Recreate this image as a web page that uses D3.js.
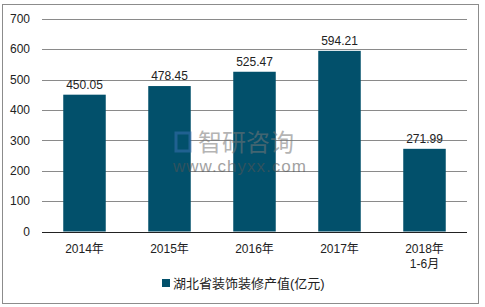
<!DOCTYPE html>
<html lang="zh">
<head>
<meta charset="utf-8">
<title>湖北省装饰装修产值</title>
<script src="https://cdn.jsdelivr.net/npm/d3@7"></script>
<style>
  body { margin: 0; background: #fff; }
  text { font-family: "Liberation Sans", Arial, "Noto Sans CJK SC", sans-serif; }
</style>
</head>
<body>
<script>
var categories = ["2014年", "2015年", "2016年", "2017年", "2018年\n1-6月"];
var values = [450.05, 478.45, 525.47, 594.21, 271.99];
var yTicks = [0, 100, 200, 300, 400, 500, 600, 700];
var seriesName = "湖北省装饰装修产值(亿元)";

var width = 485, height = 307;
var margin = {left: 42, right: 18, top: 18.7, bottom: 75.5};
var barColor = "#02506b";

var svg = d3.select("body").append("svg")
  .attr("width", width)
  .attr("height", height);

// frame
svg.append("rect")
  .attr("x", 2.5).attr("y", 4.5)
  .attr("width", 476).attr("height", 299)
  .attr("fill", "none")
  .attr("stroke", "#8c8c8c");

var x = d3.scaleBand()
  .domain(categories)
  .range([margin.left, width - margin.right])
  .paddingInner(0.5)
  .paddingOuter(0.25);

var y = d3.scaleLinear()
  .domain([0, 700])
  .range([height - margin.bottom, margin.top]);

// grid
svg.append("g")
  .selectAll("line")
  .data(yTicks.slice(1))
  .enter().append("line")
  .attr("x1", margin.left)
  .attr("x2", width - margin.right)
  .attr("y1", function(d) { return Math.round(y(d)) + 0.5; })
  .attr("y2", function(d) { return Math.round(y(d)) + 0.5; })
  .attr("stroke", "#8a8a8a")
  .attr("stroke-width", 1);

// y tick labels
svg.append("g")
  .selectAll("text")
  .data(yTicks)
  .enter().append("text")
  .attr("x", 30)
  .attr("y", function(d) { return y(d); })
  .attr("dy", "0.35em")
  .attr("text-anchor", "end")
  .attr("font-size", 12)
  .attr("fill", "#222")
  .text(function(d) { return d; });

// bars
svg.append("g")
  .selectAll("rect")
  .data(values)
  .enter().append("rect")
  .attr("x", function(d, i) { return x(categories[i]); })
  .attr("width", x.bandwidth())
  .attr("y", function(d) { return y(d); })
  .attr("height", function(d) { return y(0) - y(d); })
  .attr("fill", barColor);

// value labels
svg.append("g")
  .selectAll("text")
  .data(values)
  .enter().append("text")
  .attr("x", function(d, i) { return x(categories[i]) + x.bandwidth() / 2; })
  .attr("y", function(d) { return y(d) - 6; })
  .attr("text-anchor", "middle")
  .attr("font-size", 12)
  .attr("fill", "#222")
  .text(function(d) { return d.toFixed(2); });

// baseline
svg.append("line")
  .attr("x1", margin.left)
  .attr("x2", width - margin.right)
  .attr("y1", Math.round(y(0)) + 0.5)
  .attr("y2", Math.round(y(0)) + 0.5)
  .attr("stroke", "#222");

// x labels
var xl = svg.append("g")
  .selectAll("text")
  .data(categories)
  .enter().append("text")
  .attr("x", function(d) { return x(d) + x.bandwidth() / 2; })
  .attr("y", y(0) + 21)
  .attr("text-anchor", "middle")
  .attr("font-size", 12)
  .attr("fill", "#222");
xl.selectAll("tspan")
  .data(function(d) { return d.split("\n"); })
  .enter().append("tspan")
  .attr("x", function() { return d3.select(this.parentNode).attr("x"); })
  .attr("dy", function(d, i) { return i ? 15 : 0; })
  .text(function(d) { return d; });

// watermark
var wm = svg.append("g").attr("opacity", 0.55);
wm.append("rect").attr("x", 176).attr("y", 133).attr("width", 14).attr("height", 18)
  .attr("fill", "none").attr("stroke", "#3a6fb0").attr("stroke-width", 3);
wm.append("text").attr("x", 198).attr("y", 151)
  .attr("font-size", 24).attr("fill", "#777")
  .attr("font-family", "Noto Sans CJK SC")
  .text("智研咨询");
wm.append("text").attr("x", 173).attr("y", 172)
  .attr("font-size", 17).attr("fill", "#555")
  .attr("letter-spacing", 1)
  .text("www.chyxx.com");

// legend
svg.append("rect")
  .attr("x", 162).attr("y", 279)
  .attr("width", 8).attr("height", 8)
  .attr("fill", barColor);
svg.append("text")
  .attr("x", 173).attr("y", 283)
  .attr("dy", "0.35em")
  .attr("font-size", 13)
  .attr("fill", "#222")
  .text(seriesName);
</script>
</body>
</html>
